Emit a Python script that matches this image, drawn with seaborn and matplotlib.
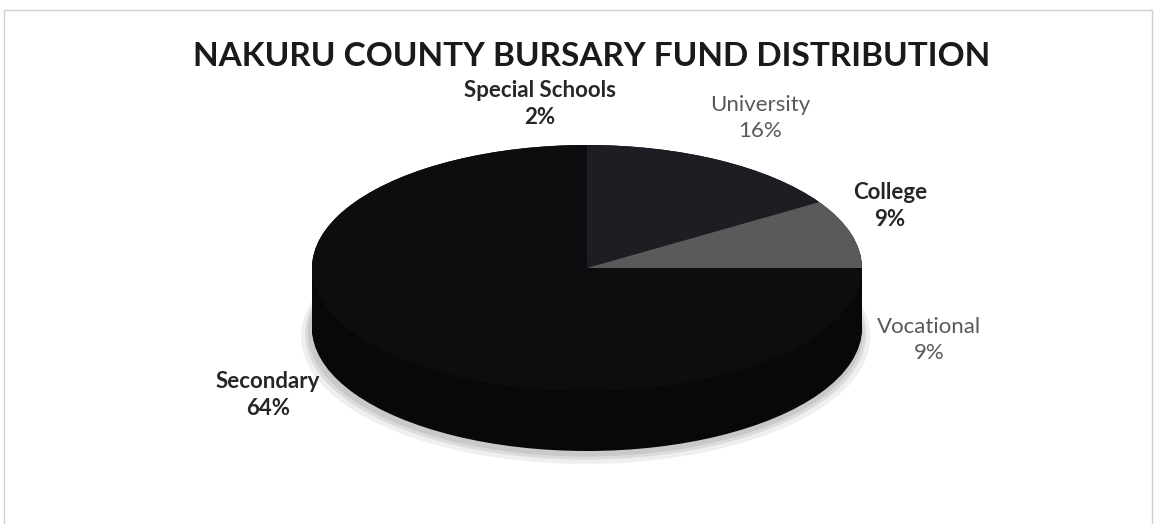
import numpy as np
import pandas as pd
import matplotlib
matplotlib.use("Agg")
import matplotlib.pyplot as plt
import seaborn as sns

# ---- data ----
title = "NAKURU COUNTY BURSARY FUND DISTRIBUTION"
categories = ["University", "College", "Vocational", "Secondary", "Special Schools"]
shares = [16, 9, 9, 64, 2]

# ---- style ----
top_colors = ["#1d1d23", "#5a5a5a", "#0d0d0f", "#0d0d0f", "#0d0d0f"]
side_colors = ["#08080a", "#151515", "#08080a", "#08080a", "#08080a"]
label_bold = [False, True, False, True, True]
label_pos_px = [(760, 118), (890, 206), (929, 340), (268, 395), (540, 104)]

sns.set_theme(style="white")
plt.rcParams["font.family"] = ["Lato", "DejaVu Sans"]

W, H = 1156, 524
fig = plt.figure(figsize=(W / 100, H / 100), dpi=100)
fig.patch.set_facecolor("white")
ax = fig.add_axes([0, 0, 1, 1])

cx, cy, rx, ry = 587, 268, 275, 123   # pixel geometry of top face
depth = 60 / ry                       # side thickness in data units

# soft shadow
for r, a, off in [(1.035, 0.2, 0.07), (1.02, 0.3, 0.05), (1.01, 0.4, 0.035)]:
    ax.pie(shares, radius=r, center=(-0.005, -depth - off), startangle=90,
           counterclock=False, colors=["#b0b0b0"] * len(shares),
           wedgeprops=dict(linewidth=0, alpha=a))

# extruded side
for d in np.linspace(depth, 0.0, 50):
    ax.pie(shares, center=(0, -d), startangle=90, counterclock=False,
           colors=side_colors, wedgeprops=dict(linewidth=0))

# top face
ax.pie(shares, startangle=90, counterclock=False, colors=top_colors,
       wedgeprops=dict(linewidth=0))

ax.set_aspect("auto")
ax.set_xlim(-cx / rx, (W - cx) / rx)
ax.set_ylim((cy - H) / ry, cy / ry)
ax.axis("off")

# frame
fig.patches.append(plt.Rectangle((4 / W, -0.1), (1152 - 4) / W, 1 - 10 / H + 0.1,
                                 transform=fig.transFigure, fill=False,
                                 edgecolor="#cfcfcf", linewidth=1))

fig.text(592 / W, 1 - 57 / H, title, ha="center", va="center",
         fontsize=24, fontweight="bold", color="#1a1a1a")

for cat, val, bold, (px, py) in zip(categories, shares, label_bold, label_pos_px):
    fig.text(px / W, 1 - py / H, f"{cat}\n{val}%", ha="center", va="center",
             fontsize=16, linespacing=1.35,
             fontweight="bold" if bold else "normal",
             color="#262626" if bold else "#595959")

fig.savefig("out.png", dpi=100)
